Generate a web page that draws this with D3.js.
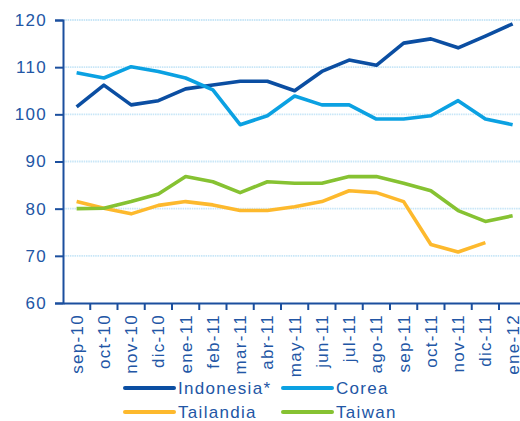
<!DOCTYPE html>
<html>
<head>
<meta charset="utf-8">
<script src="https://cdn.jsdelivr.net/npm/d3@7"></script>
<style>
  body { margin: 0; background: #fff; }
  svg text { font-family: "Liberation Sans", Arial, sans-serif; letter-spacing: 1.3px; }
</style>
</head>
<body>
<div id="chart"></div>
<script>
// meses (eje x)
const months = ["sep-10","oct-10","nov-10","dic-10","ene-11","feb-11","mar-11","abr-11",
  "may-11","jun-11","jul-11","ago-11","sep-11","oct-11","nov-11","dic-11","ene-12"];

// series
const indonesia = [101.6,106.2,102.0,102.9,105.4,106.2,107.0,107.0,105.0,109.1,111.5,110.4,115.1,116.0,114.1,116.6,119.2];
const corea     = [108.8,107.7,110.1,109.1,107.7,105.2,97.8,99.7,103.9,102.0,102.0,99.0,99.0,99.7,102.9,99.0,97.8];
const tailandia = [81.5,80.1,78.9,80.7,81.5,80.8,79.6,79.6,80.4,81.5,83.8,83.4,81.5,72.4,70.8,72.8,null];
const taiwan    = [80.0,80.1,81.5,83.1,86.8,85.7,83.4,85.7,85.4,85.4,86.8,86.8,85.4,83.8,79.6,77.3,78.5];

const yTicks = [60,70,80,90,100,110,120];

const seriesNames = ["Indonesia*","Corea","Tailandia","Taiwan"];
const seriesColors = ["#0B4EA2","#0BA1E2","#FDB92D","#86C232"];
const seriesData = [indonesia, corea, tailandia, taiwan];

const W = 520, H = 421;
const margin = {top: 20, left: 63};
const plotW = 17 * 27.25, plotH = 283;
const textColor = "#2256A5";

const svg = d3.select("#chart").append("svg")
  .attr("width", W).attr("height", H);

const x = d3.scaleBand().domain(months).range([margin.left, margin.left + plotW]);
const y = d3.scaleLinear().domain([60,120]).range([margin.top + plotH, margin.top]);

// lineas de cuadricula
svg.append("g")
  .selectAll("line")
  .data(yTicks.filter(d => d > 60))
  .join("line")
  .attr("x1", margin.left).attr("x2", W)
  .attr("y1", d => y(d)).attr("y2", d => y(d))
  .attr("stroke", "#C8E6F7")
  .attr("stroke-width", 1.8)
  .attr("stroke-dasharray", "1.5,0.8");

// eje y
const yAxis = svg.append("g")
  .attr("transform", `translate(${margin.left},0)`)
  .call(d3.axisLeft(y).tickValues(yTicks).tickSize(8).tickPadding(8));
yAxis.select(".domain").attr("stroke", "#1B4F9E").attr("stroke-width", 2);
yAxis.selectAll(".tick line").attr("stroke", "#1B4F9E").attr("stroke-width", 2);
yAxis.selectAll("text").attr("fill", textColor).style("font-size", "17px");

// eje x
const xAxis = svg.append("g")
  .attr("transform", `translate(0,${margin.top + plotH})`)
  .call(d3.axisBottom(x).tickSize(0));
xAxis.select(".domain").attr("stroke", "#1B4F9E").attr("stroke-width", 2);
xAxis.selectAll("text")
  .attr("fill", textColor)
  .style("font-size", "17px")
  .attr("text-anchor", "end")
  .attr("transform", "rotate(-90)")
  .attr("x", -11).attr("y", 0).attr("dy", "0.35em");

// marcas entre categorias
xAxis.selectAll(".sep")
  .data(months.slice(1))
  .join("line")
  .attr("class", "sep")
  .attr("x1", d => x(d)).attr("x2", d => x(d))
  .attr("y1", 0).attr("y2", 7)
  .attr("stroke", "#1B4F9E").attr("stroke-width", 2);

// lineas
const line = d3.line()
  .defined(d => d != null)
  .x((d, i) => x(months[i]) + x.bandwidth() / 2)
  .y(d => y(d));

seriesData.forEach((s, i) => {
  svg.append("path")
    .datum(s)
    .attr("fill", "none")
    .attr("stroke", seriesColors[i])
    .attr("stroke-width", 3.6)
    .attr("stroke-linejoin", "round")
    .attr("d", line);
});

// leyenda
const legendPos = [[125,388],[283,388],[125,412],[283,412]];
seriesNames.forEach((n, i) => {
  const g = svg.append("g").attr("transform", `translate(${legendPos[i][0]},${legendPos[i][1]})`);
  g.append("line").attr("x1", 0).attr("x2", 49).attr("y1", 0).attr("y2", 0)
    .attr("stroke", seriesColors[i]).attr("stroke-width", 4).attr("stroke-linecap", "round");
  g.append("text").attr("x", 53).attr("y", 0).attr("dy", "0.35em")
    .attr("fill", textColor).style("font-size", "17px").text(n);
});
</script>
</body>
</html>
